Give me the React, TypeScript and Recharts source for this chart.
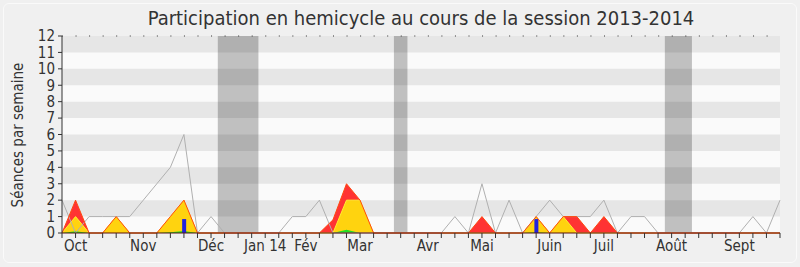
import React from "react";
import {
  ComposedChart,
  Line,
  Area,
  Bar,
  XAxis,
  YAxis,
  CartesianGrid,
  ReferenceArea,
  ReferenceLine,
} from "recharts";

// one value per week, session 2013-2014 (54 weeks, 10 per row)
const totalHemicycle = [
  2, 0, 1, 1, 1, 1, 2, 3, 4, 6,
  0, 1, 0, 0, 0, 0, 0, 1, 1, 2,
  0, 0, 0, 0, 0, 0, 0, 0, 0, 1,
  0, 3, 0, 2, 0, 1, 2, 1, 1, 1,
  2, 0, 1, 1, 0, 0, 0, 0, 0, 0,
  0, 1, 0, 2,
];
const presences = [
  0, 2, 0, 0, 1, 0, 0, 0, 1, 2,
  0, 0, 0, 0, 0, 0, 0, 0, 0, 0,
  0.8, 3, 2, 0, 0, 0, 0, 0, 0, 0,
  0, 1, 0, 0, 0, 1, 0, 1, 1, 0,
  1, 0, 0, 0, 0, 0, 0, 0, 0, 0,
  0, 0, 0, 0,
];
const interventions = [
  0, 1, 0, 0, 1, 0, 0, 0, 1, 2,
  0, 0, 0, 0, 0, 0, 0, 0, 0, 0,
  0, 2, 2, 0, 0, 0, 0, 0, 0, 0,
  0, 0, 0, 0, 0, 1, 0, 1, 0, 0,
  0, 0, 0, 0, 0, 0, 0, 0, 0, 0,
  0, 0, 0, 0,
];
const longues = [
  0, 0.1, 0, 0, 0, 0, 0, 0, 0.05, 0.12,
  0, 0, 0, 0, 0, 0, 0, 0, 0, 0,
  0, 0.2, 0, 0, 0, 0, 0, 0, 0, 0,
  0, 0, 0, 0, 0, 0.05, 0, 0, 0, 0,
  0, 0, 0, 0, 0, 0, 0, 0, 0, 0,
  0, 0, 0, 0,
];
const questions = [
  0, 0, 0, 0, 0, 0, 0, 0, 0, 0.85,
  0, 0, 0, 0, 0, 0, 0, 0, 0, 0,
  0, 0, 0, 0, 0, 0, 0, 0, 0, 0,
  0, 0, 0, 0, 0, 0.85, 0, 0, 0, 0,
  0, 0, 0, 0, 0, 0, 0, 0, 0, 0,
  0, 0, 0, 0,
];

const monthStarts = [1, 6, 11, 15, 18, 22, 27, 31, 36, 40, 45, 50];
const monthNames = ["Oct", "Nov", "Déc", "Jan 14", "Fév", "Mar", "Avr", "Mai", "Juin", "Juil", "Août", "Sept"];

// parliamentary breaks, in weeks
const breaks = [
  [11.5, 14.5],
  [24.5, 25.5],
  [44.5, 46.5],
];

const darkStripes = [1, 3, 5, 7, 9, 11];
const yTicks = [0, 1, 2, 3, 4, 5, 6, 7, 8, 9, 10, 11, 12];

const data = totalHemicycle.map((t, i) => ({
  week: i,
  total: t,
  presences: presences[i],
  interventions: interventions[i],
  longues: longues[i],
  questions: questions[i],
}));
const weekTicks = data.map((d) => d.week);

const font = "'DejaVu Sans Condensed', 'DejaVu Sans', sans-serif";

export default function App() {
  const monthLabel = (v: number) => {
    const k = monthStarts.indexOf(v);
    return k >= 0 ? monthNames[k] : "";
  };

  return (
    <div
      style={{
        position: "absolute",
        left: 0,
        top: 0,
        width: 800,
        height: 267,
        background: "#f0f0f0",
        fontFamily: font,
        fontStretch: "condensed",
        overflow: "hidden",
      }}
    >
      <div
        style={{
          position: "absolute",
          left: 3,
          top: 3,
          width: 792,
          height: 258,
          border: "1px solid #fafafa",
          borderRadius: 6,
        }}
      />
      <div
        style={{
          position: "absolute",
          left: 0,
          width: 842,
          top: 5,
          textAlign: "center",
          fontSize: 20,
          color: "#333",
          lineHeight: "26px",
        }}
      >
        Participation en hemicycle au cours de la session 2013-2014
      </div>
      <div
        style={{
          position: "absolute",
          left: 18,
          top: 135,
          transform: "translate(-50%, -50%) rotate(-90deg)",
          whiteSpace: "nowrap",
          fontSize: 15,
          color: "#333",
        }}
      >
        Séances par semaine
      </div>
      <ComposedChart
        width={800}
        height={267}
        data={data}
        margin={{ top: 36, right: 20, bottom: 0, left: 0 }}
        style={{ position: "absolute", left: 0, top: 0 }}
      >
        <CartesianGrid fill="#fafafa" horizontal={false} vertical={false} />
        {darkStripes.map((y) => (
          <ReferenceArea key={y} y1={y} y2={y + 1} fill="#e6e6e6" fillOpacity={1} stroke="none" />
        ))}
        {breaks.map(([a, b]) => (
          <ReferenceArea key={a} x1={a} x2={b} fill="#000" fillOpacity={0.23} stroke="none" />
        ))}
        <ReferenceLine y={12} stroke="#333" strokeDasharray="1 12.55" />
        <XAxis
          dataKey="week"
          type="number"
          domain={[0, 53]}
          ticks={weekTicks}
          interval={0}
          tickFormatter={monthLabel}
          tickSize={5}
          tickMargin={2}
          height={34}
          axisLine={{ stroke: "#5a1010" }}
          tickLine={{ stroke: "#333" }}
          tick={{ fontSize: 15, fill: "#333" }}
        />
        <YAxis
          domain={[0, 12]}
          ticks={yTicks}
          interval={0}
          width={62}
          tickSize={4}
          tickMargin={3}
          axisLine={{ stroke: "#333" }}
          tickLine={{ stroke: "#333" }}
          tick={{ fontSize: 15, fill: "#333" }}
        />
        <Line
          dataKey="total"
          type="linear"
          stroke="#b0b0b0"
          strokeWidth={1}
          dot={false}
          activeDot={false}
          isAnimationActive={false}
        />
        <Area
          dataKey="presences"
          type="linear"
          fill="#ff3333"
          fillOpacity={1}
          stroke="none"
          dot={false}
          activeDot={false}
          isAnimationActive={false}
        />
        <Area
          dataKey="interventions"
          type="linear"
          fill="#ffd30f"
          fillOpacity={1}
          stroke="#ffee33"
          strokeWidth={1}
          dot={false}
          activeDot={false}
          isAnimationActive={false}
        />
        <Line
          dataKey="presences"
          type="linear"
          stroke="#ff4a10"
          strokeWidth={1}
          dot={false}
          activeDot={false}
          isAnimationActive={false}
        />
        <Area
          dataKey="longues"
          type="linear"
          fill="#22e022"
          fillOpacity={1}
          stroke="none"
          dot={false}
          activeDot={false}
          isAnimationActive={false}
        />
        <Bar dataKey="questions" fill="#2222dd" barSize={4} isAnimationActive={false} />
      </ComposedChart>
    </div>
  );
}
